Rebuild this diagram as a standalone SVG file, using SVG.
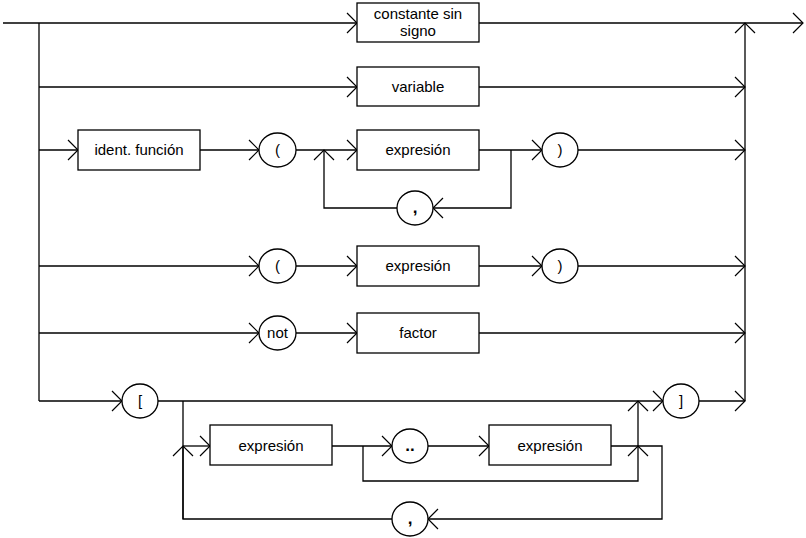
<svg xmlns="http://www.w3.org/2000/svg" width="806" height="538" viewBox="0 0 806 538">
<style>
  .ln{fill:none;stroke:#000;stroke-width:1.3}
  .bx{fill:#fff;stroke:#000;stroke-width:1.3}
  .t{font-family:"Liberation Sans",Arial,sans-serif;font-size:15px;fill:#000;text-anchor:middle}
  .b{font-weight:bold;font-size:17px}
</style>
<defs>
  <marker id="a" markerUnits="userSpaceOnUse" markerWidth="14" markerHeight="24" viewBox="-1 -1 14 24" refX="11" refY="10" orient="auto">
    <path d="M1,0 L11,10 L1,20" fill="none" stroke="#000" stroke-width="1.2"/>
  </marker>
</defs>
<rect width="806" height="538" fill="#fff"/>
<g id="connectors">
  <!-- main entry/exit -->
  <path class="ln" d="M3,23 H357" marker-end="url(#a)"/>
  <path class="ln" d="M479,23 H803" marker-end="url(#a)"/>
  <path class="ln" d="M39,23 V401"/>
  <path class="ln" d="M745,401 V23" marker-end="url(#a)"/>
  <!-- row 2 -->
  <path class="ln" d="M39,87 H357" marker-end="url(#a)"/>
  <path class="ln" d="M479,87 H745" marker-end="url(#a)"/>
  <!-- row 3 -->
  <path class="ln" d="M39,150 H78" marker-end="url(#a)"/>
  <path class="ln" d="M200,150 H259" marker-end="url(#a)"/>
  <path class="ln" d="M296,150 H357" marker-end="url(#a)"/>
  <path class="ln" d="M479,150 H542" marker-end="url(#a)"/>
  <path class="ln" d="M578,150 H745" marker-end="url(#a)"/>
  <path class="ln" d="M511,150 V208 H433" marker-end="url(#a)"/>
  <path class="ln" d="M397,208 H324 V150" marker-end="url(#a)"/>
  <!-- row 4 -->
  <path class="ln" d="M39,266 H259" marker-end="url(#a)"/>
  <path class="ln" d="M296,266 H357" marker-end="url(#a)"/>
  <path class="ln" d="M479,266 H542" marker-end="url(#a)"/>
  <path class="ln" d="M578,266 H745" marker-end="url(#a)"/>
  <!-- row 5 -->
  <path class="ln" d="M39,333 H259" marker-end="url(#a)"/>
  <path class="ln" d="M296,333 H357" marker-end="url(#a)"/>
  <path class="ln" d="M479,333 H745" marker-end="url(#a)"/>
  <!-- row 6 -->
  <path class="ln" d="M39,401 H122" marker-end="url(#a)"/>
  <path class="ln" d="M158,401 H663" marker-end="url(#a)"/>
  <path class="ln" d="M699,401 H745" marker-end="url(#a)"/>
  <path class="ln" d="M183,401 V519 H392"/>
  <path class="ln" d="M183,519 V446" marker-end="url(#a)"/>
  <path class="ln" d="M183,446 H210" marker-end="url(#a)"/>
  <path class="ln" d="M332,446 H392" marker-end="url(#a)"/>
  <path class="ln" d="M428,446 H489" marker-end="url(#a)"/>
  <path class="ln" d="M363,446 V481 H638 V446" marker-end="url(#a)"/>
  <path class="ln" d="M638,446 V401" marker-end="url(#a)"/>
  <path class="ln" d="M611,446 H662 V519 H428" marker-end="url(#a)"/>
</g>
<g id="n-constante">
  <rect class="bx" x="357" y="3" width="122" height="39"/>
  <text class="t" x="418" y="19">constante sin</text>
  <text class="t" x="418" y="36">signo</text>
</g>
<g id="n-variable">
  <rect class="bx" x="357" y="67" width="122" height="39"/>
  <text class="t" x="418" y="92">variable</text>
</g>
<g id="n-ident">
  <rect class="bx" x="78" y="130" width="122" height="40"/>
  <text class="t" x="139" y="155">ident. función</text>
</g>
<g id="n-lpar1">
  <ellipse class="bx" cx="277.5" cy="150" rx="18.5" ry="17"/>
  <text class="t" x="277.5" y="155">(</text>
</g>
<g id="n-expr1">
  <rect class="bx" x="357" y="130" width="122" height="40"/>
  <text class="t" x="418" y="155">expresión</text>
</g>
<g id="n-rpar1">
  <ellipse class="bx" cx="560" cy="150" rx="18" ry="17"/>
  <text class="t" x="560" y="155">)</text>
</g>
<g id="n-comma1">
  <ellipse class="bx" cx="415" cy="208" rx="18" ry="17"/>
  <text class="t b" x="415" y="213">,</text>
</g>
<g id="n-lpar2">
  <ellipse class="bx" cx="277.5" cy="266" rx="18.5" ry="17"/>
  <text class="t" x="277.5" y="271">(</text>
</g>
<g id="n-expr2">
  <rect class="bx" x="357" y="246" width="122" height="40"/>
  <text class="t" x="418" y="271">expresión</text>
</g>
<g id="n-rpar2">
  <ellipse class="bx" cx="560" cy="266" rx="18" ry="17"/>
  <text class="t" x="560" y="271">)</text>
</g>
<g id="n-not">
  <ellipse class="bx" cx="277.5" cy="333" rx="18.5" ry="17"/>
  <text class="t" x="277.5" y="338">not</text>
</g>
<g id="n-factor">
  <rect class="bx" x="357" y="313" width="122" height="40"/>
  <text class="t" x="418" y="338">factor</text>
</g>
<g id="n-lbrack">
  <ellipse class="bx" cx="140" cy="401" rx="18" ry="17"/>
  <text class="t" x="140" y="406">[</text>
</g>
<g id="n-expr3">
  <rect class="bx" x="210" y="425" width="122" height="40"/>
  <text class="t" x="271" y="451">expresión</text>
</g>
<g id="n-dotdot">
  <ellipse class="bx" cx="410" cy="446" rx="18" ry="17"/>
  <text class="t b" x="410" y="451">..</text>
</g>
<g id="n-expr4">
  <rect class="bx" x="489" y="425" width="122" height="40"/>
  <text class="t" x="550" y="451">expresión</text>
</g>
<g id="n-rbrack">
  <ellipse class="bx" cx="681" cy="401" rx="18" ry="17"/>
  <text class="t" x="681" y="406">]</text>
</g>
<g id="n-comma2">
  <ellipse class="bx" cx="410" cy="519" rx="18" ry="17"/>
  <text class="t b" x="410" y="524">,</text>
</g>
</svg>
